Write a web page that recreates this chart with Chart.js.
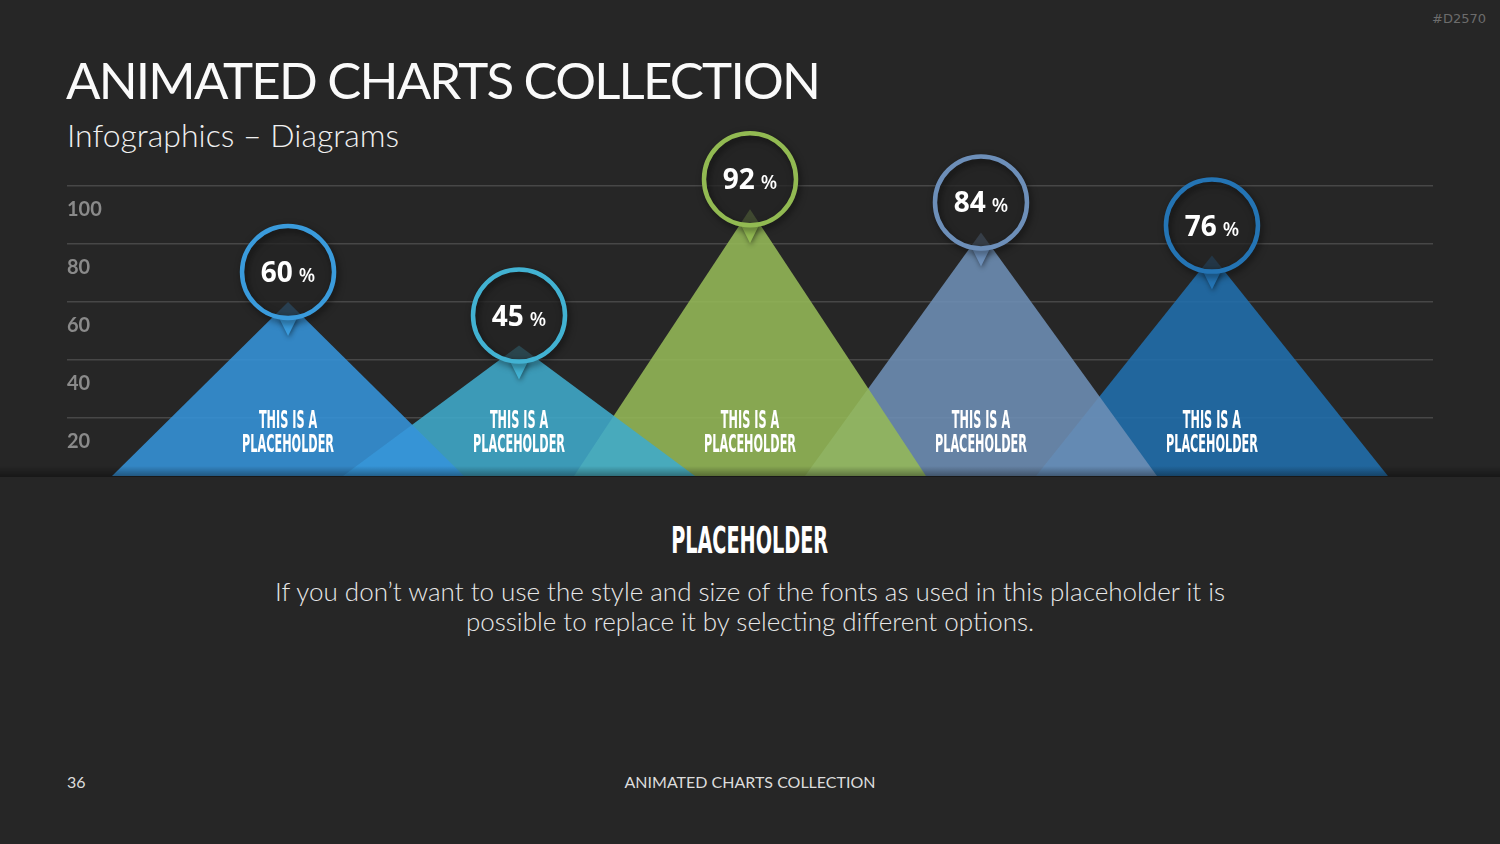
<!DOCTYPE html>
<html>
<head>
<meta charset="utf-8">
<script src="https://cdn.jsdelivr.net/npm/chart.js@4.4.1/dist/chart.umd.min.js"></script>
<style>
  html, body { margin: 0; padding: 0; }
  body {
    width: 1500px; height: 844px; overflow: hidden; position: relative;
    background: #262626; color: #fff; font-family: Lato, "Open Sans", sans-serif;
  }
  .abs { position: absolute; white-space: nowrap; line-height: 1; }
  #title { left: 66px; top: 54px; font-size: 51px; letter-spacing: -1.8px; font-weight: 400; color: #fafafa; }
  #subtitle { left: 67px; top: 119px; font-size: 32px; font-weight: 300; color: #f0f0f0; }
  #tag { right: 14px; top: 12px; font-size: 13px; color: #6c6c6c; font-family: "DejaVu Sans", sans-serif; }
  #chartBox { position: absolute; left: 0; top: 0; width: 1500px; height: 500px; }
  #heading { left: 0; width: 1500px; top: 521px; text-align: center; }
  #heading span {
    display: inline-block; font-family: "Liberation Sans Narrow", "DejaVu Sans Condensed", "Liberation Sans", sans-serif;
    font-weight: 700; font-size: 38px; color: #fff; transform-origin: center;
  }
  #body { left: 0; width: 1500px; top: 576px; text-align: center; font-size: 26px; font-weight: 300; line-height: 30px; color: #e8e8e8; }
  #page { left: 67px; top: 774px; font-size: 16px; color: #dcdcdc; }
  #footer { left: 0; width: 1500px; top: 774px; text-align: center; font-size: 16px; color: #dcdcdc; }
</style>
</head>
<body>
<div class="abs" id="tag">#D2570</div>
<div class="abs" id="title">ANIMATED CHARTS COLLECTION</div>
<div class="abs" id="subtitle">Infographics – Diagrams</div>
<div id="chartBox"><canvas id="chart" width="1500" height="500"></canvas></div>
<div class="abs" id="heading"><span id="headingText">PLACEHOLDER</span></div>
<div class="abs" id="body">If you don’t want to use the style and size of the fonts as used in this placeholder it is<br>possible to replace it by selecting different options.</div>
<div class="abs" id="page">36</div>
<div class="abs" id="footer">ANIMATED CHARTS COLLECTION</div>

<script>
// data
const categories = [
    ["THIS IS A", "PLACEHOLDER"],
    ["THIS IS A", "PLACEHOLDER"],
    ["THIS IS A", "PLACEHOLDER"],
    ["THIS IS A", "PLACEHOLDER"],
    ["THIS IS A", "PLACEHOLDER"],
];
const values = [60, 45, 92, 84, 76];
const yTickValues = [0, 20, 40, 60, 80, 100];

// styles
const fillColors = ["#3694db", "#40abcc", "#95ba58", "#6e90b6", "#2170ae"];
const ringColors = ["#3a9bdc", "#42b2d2", "#92ba52", "#6d8fb9", "#2474b4"];
const halfWidth = 0.762; // triangle half base, in category units
const condFont = '"Liberation Sans Narrow", "DejaVu Sans Condensed", "Liberation Sans", sans-serif';

function hexA(hex, a) {
    const n = parseInt(hex.slice(1), 16);
    return `rgba(${(n >> 16) & 255},${(n >> 8) & 255},${n & 255},${a})`;
}

const datasets = values.map((v, i) => ({
    label: categories[i].join(" "),
    data: [
        { x: i - halfWidth, y: 0 },
        { x: i, y: v },
        { x: i + halfWidth, y: 0 },
    ],
    backgroundColor: hexA(fillColors[i], 0.88),
    borderWidth: 0,
    pointRadius: 0,
    fill: "origin",
    tension: 0,
}));

const peakPlugin = {
    id: "peaks",
    afterDatasetsDraw(chart) {
        const { ctx, chartArea, scales } = chart;
        const xs = scales.x, ys = scales.y;

        // shadow band along the baseline
        const b = chartArea.bottom;
        const g = ctx.createLinearGradient(0, b - 10, 0, b + 1);
        g.addColorStop(0, "rgba(0,0,0,0)");
        g.addColorStop(1, "rgba(0,0,0,0.38)");
        ctx.save();
        ctx.fillStyle = g;
        ctx.fillRect(0, b - 10, chart.width, 11);
        ctx.restore();

        // labels inside the triangles
        ctx.save();
        ctx.font = `700 24px ${condFont}`;
        const s = 92 / ctx.measureText("PLACEHOLDER").width;
        ctx.fillStyle = "#ffffff";
        ctx.textAlign = "center";
        ctx.textBaseline = "alphabetic";
        categories.forEach((lines, i) => {
            const px = xs.getPixelForValue(i);
            lines.forEach((t, k) => {
                const w = ctx.measureText(t).width * Math.min(1, s);
                ctx.fillText(t, px, b - 48 + k * 24, w);
            });
        });
        ctx.restore();

        // circle markers
        values.forEach((v, i) => {
            const px = xs.getPixelForValue(i);
            const py = ys.getPixelForValue(v);
            const cy = py - 30, r = 46;

            ctx.save();
            // pointer
            ctx.fillStyle = ringColors[i];
            ctx.shadowColor = "rgba(0,0,0,0.45)";
            ctx.shadowBlur = 5;
            ctx.shadowOffsetX = 1;
            ctx.shadowOffsetY = 2;
            ctx.beginPath();
            ctx.moveTo(px - 10, cy + r - 2);
            ctx.lineTo(px + 10, cy + r - 2);
            ctx.lineTo(px, cy + r + 18);
            ctx.closePath();
            ctx.fill();
            ctx.shadowColor = "rgba(0,0,0,0)";

            // dark disc
            ctx.fillStyle = "rgba(36,36,36,0.72)";
            ctx.beginPath();
            ctx.arc(px, cy, r, 0, Math.PI * 2);
            ctx.fill();

            // ring with shadow
            ctx.shadowColor = "rgba(0,0,0,0.55)";
            ctx.shadowBlur = 7;
            ctx.shadowOffsetX = 2;
            ctx.shadowOffsetY = 3;
            ctx.strokeStyle = ringColors[i];
            ctx.lineWidth = 4.5;
            ctx.beginPath();
            ctx.arc(px, cy, r, 0, Math.PI * 2);
            ctx.stroke();
            ctx.restore();

            // value text
            ctx.save();
            ctx.fillStyle = "#ffffff";
            ctx.textBaseline = "alphabetic";
            ctx.textAlign = "left";
            const big = `700 28px "Open Sans", sans-serif`;
            const small = `600 19px "Open Sans", sans-serif`;
            ctx.font = big;
            const t1 = String(v);
            const w1 = ctx.measureText(t1).width;
            ctx.font = small;
            const w2 = ctx.measureText("%").width;
            const gap = 6;
            const x0 = px - (w1 + gap + w2) / 2;
            ctx.font = big;
            ctx.fillText(t1, x0, cy + 10);
            ctx.font = small;
            ctx.fillText("%", x0 + w1 + gap, cy + 10);
            ctx.restore();
        });
    },
};

new Chart(document.getElementById("chart"), {
    type: "line",
    data: { datasets },
    options: {
        responsive: false,
        animation: false,
        devicePixelRatio: 1,
        layout: { padding: { left: 67, right: 67, top: 186, bottom: 24 } },
        plugins: { legend: { display: false }, tooltip: { enabled: false } },
        scales: {
            x: {
                type: "linear",
                min: -0.957,
                max: 4.957,
                display: false,
            },
            y: {
                min: 0,
                max: 100,
                afterBuildTicks: (axis) => { axis.ticks = yTickValues.map((v) => ({ value: v })); },
                border: { display: false },
                grid: {
                    drawTicks: false,
                    lineWidth: 1.5,
                    color: (c) => (c.tick && c.tick.value === 0 ? "rgba(0,0,0,0)" : "#474747"),
                },
                ticks: {
                    mirror: true,
                    padding: 0,
                    labelOffset: 24,
                    color: "#8a8a8a",
                    font: { family: "Lato, 'Open Sans', sans-serif", size: 20, weight: "bold" },
                    callback: (v) => (v === 0 ? "" : v),
                },
            },
        },
    },
    plugins: [peakPlugin],
});

// squeeze the condensed heading to its width in the slide
const hd = document.getElementById("headingText");
const hw = hd.getBoundingClientRect().width;
if (hw > 157) hd.style.transform = `scaleX(${157 / hw})`;
</script>
</body>
</html>
